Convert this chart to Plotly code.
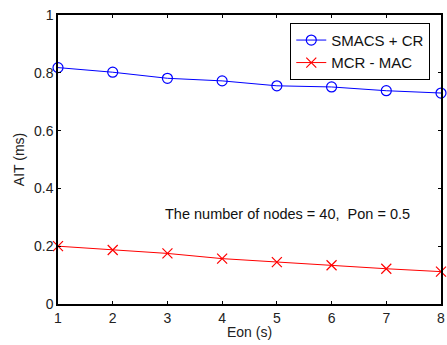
import plotly.graph_objects as go

eon = [1, 2, 3, 4, 5, 6, 7, 8]
smacs_cr = [0.818, 0.802, 0.781, 0.772, 0.755, 0.751, 0.738, 0.730]
mcr_mac = [0.200, 0.187, 0.175, 0.157, 0.145, 0.134, 0.122, 0.112]
x_ticks = [1, 2, 3, 4, 5, 6, 7, 8]
y_ticks = [0, 0.2, 0.4, 0.6, 0.8, 1]
y_tick_text = ["0", "0.2", "0.4", "0.6", "0.8", "1"]

fig = go.Figure()
fig.add_trace(go.Scatter(
    x=eon, y=smacs_cr, mode="lines+markers", name="SMACS + CR",
    line=dict(color="#0000ff", width=1),
    marker=dict(symbol="circle-open", size=10, color="#0000ff", line=dict(width=1.2)),
    cliponaxis=False,
))
fig.add_trace(go.Scatter(
    x=eon, y=mcr_mac, mode="lines+markers", name="MCR - MAC",
    line=dict(color="#ff0000", width=1),
    marker=dict(symbol="x-thin-open", size=10, color="#ff0000", line=dict(width=1.2, color="#ff0000")),
    cliponaxis=False,
))

fig.add_annotation(
    x=5.2, y=0.31, xref="x", yref="y",
    text="The number of nodes = 40,  Pon = 0.5",
    showarrow=False, font=dict(size=14.5, color="#111"),
)

axis_common = dict(
    showgrid=False, zeroline=False, showline=True, linecolor="black", linewidth=1.5,
    mirror="ticks", ticks="inside", ticklen=3, tickcolor="black", tickwidth=1,
    tickfont=dict(size=14, color="#222"), ticklabeloverflow="allow",
)
fig.update_xaxes(range=[1, 8], tickvals=x_ticks, title=dict(text="Eon (s)", font=dict(size=14, color="#222"), standoff=3), **axis_common)
fig.update_yaxes(range=[0, 1], tickvals=y_ticks, ticktext=y_tick_text, title=dict(text="AIT (ms)", font=dict(size=14, color="#222"), standoff=6), **axis_common)

fig.update_layout(
    width=447, height=345,
    margin=dict(l=58, r=2, t=15, b=41),
    plot_bgcolor="white", paper_bgcolor="white",
    font=dict(family="Liberation Sans, Arial, sans-serif"),
    showlegend=True,
    legend=dict(
        x=0.972, y=0.973, xanchor="right", yanchor="top",
        bordercolor="black", borderwidth=1, bgcolor="white",
        font=dict(size=15, color="#111"),
        tracegroupgap=0, itemwidth=30,
    ),
)

fig.write_html("out.html")
